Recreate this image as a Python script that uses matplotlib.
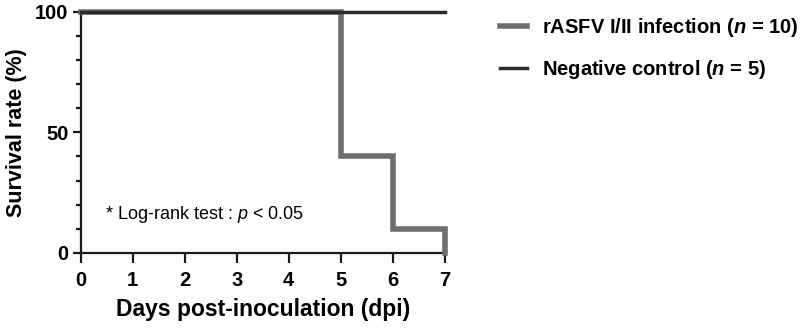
import matplotlib
matplotlib.use("Agg")
import matplotlib.pyplot as plt
from matplotlib.ticker import MultipleLocator

plt.rcParams['font.family'] = ['Liberation Sans', 'DejaVu Sans']
plt.rcParams['mathtext.fontset'] = 'custom'
plt.rcParams['mathtext.rm'] = 'Liberation Sans'
plt.rcParams['mathtext.it'] = 'Liberation Sans:italic'
plt.rcParams['mathtext.bf'] = 'Liberation Sans:bold'
plt.rcParams['mathtext.bfit'] = 'Liberation Sans:italic:bold'

days_infected = [0, 5, 5, 6, 6, 7, 7]
surv_infected = [100, 100, 40, 40, 10, 10, 0]
days_control = [0, 7]
surv_control = [100, 100]
label_infected = "rASFV I/II infection ($\\mathbfit{n}$ = 10)"
label_control = "Negative control ($\\mathbfit{n}$ = 5)"
x_ticks = [0, 1, 2, 3, 4, 5, 6, 7]
y_ticks = [0, 50, 100]

fig = plt.figure(figsize=(8, 3.28), dpi=100)
ax = fig.add_axes([0.101, 0.229, 0.455, 0.735])

ax.plot(days_infected, surv_infected, color='#6e6e6e', lw=4.0, solid_joinstyle='miter',
        label=label_infected, clip_on=False, zorder=3)
ax.plot(days_control, surv_control, color='#2b2b2b', lw=2.5, label=label_control,
        clip_on=False, zorder=4)

ax.set_xlim(0, 7)
ax.set_ylim(0, 100)
ax.set_xticks(x_ticks)
ax.set_yticks(y_ticks)
ax.yaxis.set_minor_locator(MultipleLocator(10))
for s in ['top', 'right']:
    ax.spines[s].set_visible(False)
for s in ['left', 'bottom']:
    ax.spines[s].set_linewidth(1.6)
    ax.spines[s].set_color('#1a1a1a')
ax.tick_params(axis='x', which='major', length=7, width=1.6, labelsize=14.5,
               color='#1a1a1a', pad=6)
ax.tick_params(axis='y', which='major', length=6, width=1.6, labelsize=14.5,
               color='#1a1a1a', pad=3)
ax.tick_params(axis='y', which='minor', length=3.5, width=1.6, color='#1a1a1a')
for lab in ax.get_xticklabels() + ax.get_yticklabels():
    lab.set_fontweight('bold')
ax.set_xlabel('Days post-inoculation (dpi)', fontsize=16.5, fontweight='bold', labelpad=6)
ax.set_ylabel('Survival rate (%)', fontsize=15.5, fontweight='bold', labelpad=6)

ax.text(0.066, 0.158, '* Log-rank test : $\\it{p}$ < 0.05', transform=ax.transAxes,
        fontsize=13, ha='left', va='center')

leg = fig.legend(loc='center left', bbox_to_anchor=(0.625, 0.851), frameon=False,
                 prop={'size': 14.5, 'weight': 'bold'}, handlelength=1.34,
                 handletextpad=0.75, labelspacing=0.95, borderpad=0, borderaxespad=0)

fig.savefig('out.png', dpi=100)
